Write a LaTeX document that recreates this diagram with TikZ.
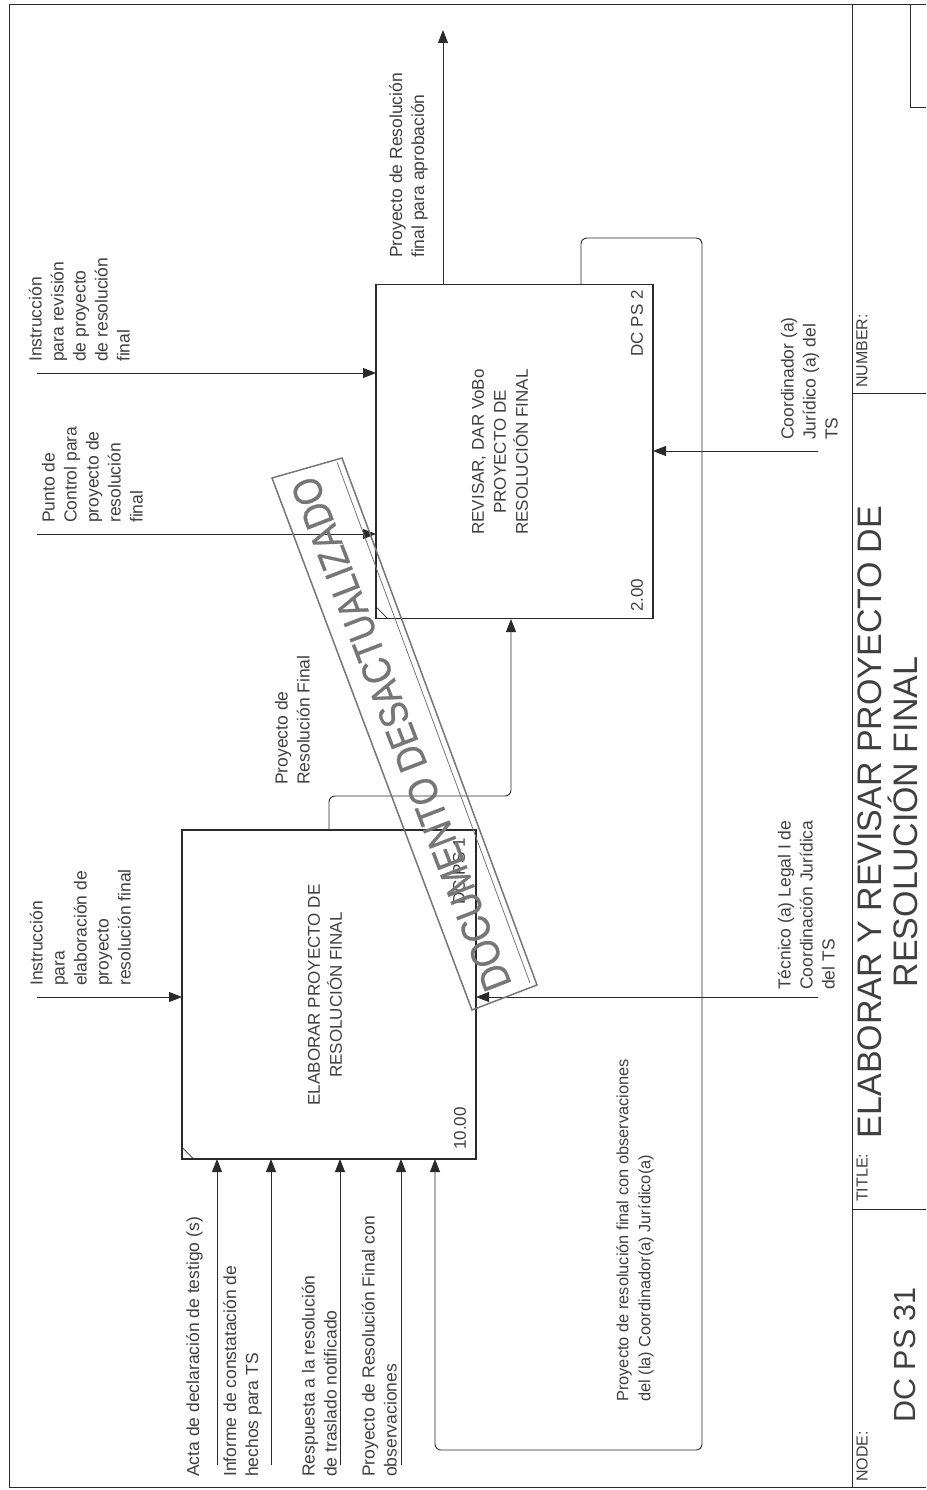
\documentclass[tikz,border=0pt]{standalone}
\usepackage{fontspec}
\setmainfont{Liberation Sans}
\newfontfamily\stampfont[FakeBold=0.7,FakeStretch=0.85]{Liberation Sans}
\usetikzlibrary{arrows.meta}
\definecolor{ink}{HTML}{2A2A2A}
\definecolor{txt}{HTML}{404040}
\definecolor{stamp}{HTML}{767676}
\tikzset{
  flow/.style={draw=ink,line width=0.9pt,rounded corners=6pt,-{Triangle[length=13pt,width=10pt]}},
  abox/.style={draw=ink,line width=1.4pt},
  rlabel/.style={rotate=90,anchor=south west,inner sep=0pt,align=left,text=txt,font=\fontsize{17.5}{22}\selectfont},
  clabel/.style={rotate=90,anchor=center,inner sep=0pt,align=center,text=txt,font=\fontsize{17}{22}\selectfont},
  tag/.style={rotate=90,inner sep=0pt,text=txt,font=\fontsize{17}{18}\selectfont},
  headtag/.style={tag,anchor=west,font=\fontsize{16}{16}\selectfont},
  frameline/.style={draw=ink,line width=0.8pt},
}
\begin{document}
\begin{tikzpicture}[x=1pt,y=-1pt]
\useasboundingbox (0,0) rectangle (926,1490);
% frame
\draw[frameline] (926,4) -- (9,4) -- (9,1487) -- (926,1487);
\draw[frameline] (852,4) -- (852,1487);
\draw[frameline] (852,393) -- (926,393);
\draw[frameline] (852,1209) -- (926,1209);
\draw[frameline] (926,107) -- (910,107) -- (910,4);
% boxes
\node[abox,minimum width=294pt,minimum height=329pt,inner sep=0pt] (a1) at (329,994.5) {};
\node[abox,minimum width=277pt,minimum height=334pt,inner sep=0pt] (a2) at (514.5,451.5) {};
\draw[ink,line width=0.8pt] ([yshift=13pt]a1.south west) -- ([xshift=13pt]a1.south west);
\draw[ink,line width=0.8pt] ([yshift=13pt]a2.south west) -- ([xshift=13pt]a2.south west);
% coordinates
\coordinate (i1) at (37,997);
\coordinate (i2) at (37,534);
\coordinate (i3) at (37,373);
\coordinate (o1) at (443,30);
\coordinate (m1) at (818,997);
\coordinate (m2) at (818,451);
\foreach \n/\x in {b1/217,b2/271,b3/340,b4/401}{
  \coordinate (\n) at (\x,1465);
  \coordinate (\n t) at (\x,1159);
  \draw[flow] (\n) -- (\n t);
}
\draw[flow] (i1) -- (182,997);
\draw[flow] (i2) -- (376,534);
\draw[flow] (i3) -- (376,373);
\draw[flow] (443,285) -- (o1);
\draw[flow] (m1) -- (476,997);
\draw[flow] (m2) -- (653,451);
\draw[flow] (329,830) -- (329,796) -- (511,796) -- (511,619);
\draw[flow] (581,285) -- (581,238) -- (702,238) -- (702,1450) -- (435,1450) -- (435,1159);
% box labels
\node[clabel] (t1) at (325,995) {ELABORAR PROYECTO DE\\RESOLUCIÓN FINAL};
\node[clabel] (t2) at (500,452) {REVISAR, DAR VoBo\\PROYECTO DE\\RESOLUCIÓN FINAL};
\node[tag,anchor=west] (n1) at (460,1150) {10.00};
\node[tag,anchor=east] (n2) at (459,838) {DC PS 1};
\node[tag,anchor=west] (n3) at (637,612) {2.00};
\node[tag,anchor=east] (n4) at (637,290) {DC PS 2};
% arrow labels
\node[rlabel] (l1) at (203,1477) {Acta de declaración de testigo (s)};
\node[rlabel] (l2) at (262,1477) {Informe de constatación de\\hechos para TS};
\node[rlabel] (l3) at (337,1477) {Respuesta a la resolución\\de traslado notificado};
\node[rlabel] (l4) at (397,1477) {Proyecto de Resolución Final con\\observaciones};
\node[rlabel,font=\fontsize{16.4}{22}\selectfont] (l5) at (654,1402) {Proyecto de resolución final con observaciones\\del (la) Coordinador(a) Jurídico(a)};
\node[rlabel] (l6) at (131,986) {Instrucción\\para\\elaboración de\\proyecto\\resolución final};
\node[rlabel] (l7) at (835,990) {Técnico (a) Legal I de\\Coordinación Jurídica\\del TS};
\node[rlabel] (l8) at (310,785) {Proyecto de\\Resolución Final};
\node[rlabel] (l9) at (143,523) {Punto de\\Control para\\proyecto de\\resolución\\final};
\node[rlabel] (l10) at (130,362) {Instrucción\\para revisión\\de proyecto\\de resolución\\final};
\node[rlabel] (l11) at (428,258) {Proyecto de Resolución\\final para aprobación};
\node[rlabel] (l12) at (838,440) {Coordinador (a)\\Jurídico (a) del\\TS};
% title block
\node[headtag] (nd) at (862,1482) {NODE:};
\node[headtag] (tt) at (862,1202) {TITLE:};
\node[headtag] (nb) at (862,388) {NUMBER:};
\node[tag,anchor=center,font=\fontsize{30.5}{30}\selectfont] (dc) at (905,1355) {DC PS 31};
\node[rotate=90,inner sep=0pt,align=center,text=txt,font=\fontsize{34}{36}\selectfont] (ti) at (888,822) {ELABORAR Y REVISAR PROYECTO DE\\RESOLUCIÓN FINAL};
% stamp
\draw[stamp,line width=1.5pt] (272,478) -- (342,458) -- (537,985) -- (472,1010) -- cycle;
\draw[stamp,line width=0.8pt] (337,462) -- (530,983);
\node[rotate=111,inner sep=0pt,text=stamp,font=\stampfont\fontsize{40.5}{44}\selectfont] (st) at (401,734) {DOCUMENTO DESACTUALIZADO};
\end{tikzpicture}
\end{document}
